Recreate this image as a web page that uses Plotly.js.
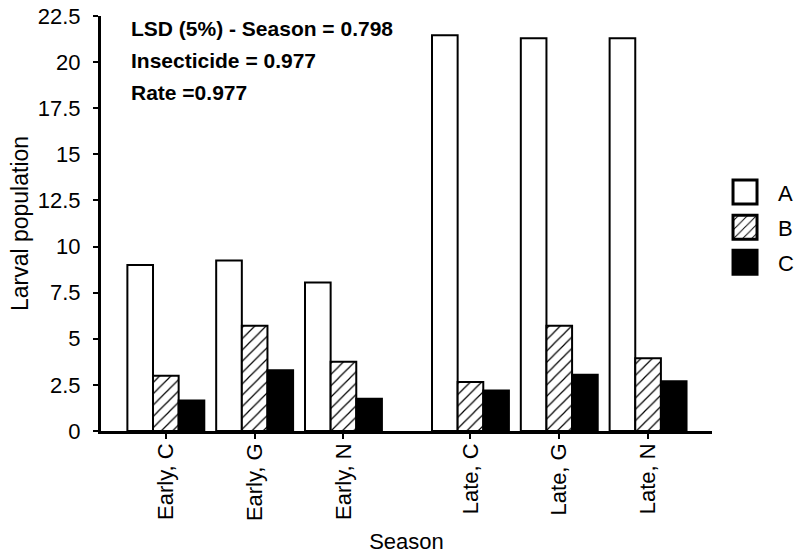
<!DOCTYPE html>
<html>
<head>
<meta charset="utf-8">
<script src="https://cdn.plot.ly/plotly-3.0.1.min.js"></script>
<style>
  html, body { margin: 0; padding: 0; background: #fff; }
  #chart { width: 796px; height: 556px; }
</style>
</head>
<body>
<div id="chart"></div>
<script>
// Season x insecticide combinations on the category axis
const categories = ['Early, C', 'Early, G', 'Early, N', 'Late, C', 'Late, G', 'Late, N'];
const seasons = ['Early', 'Early', 'Early', 'Late', 'Late', 'Late'];

// Larval population per application rate
const rateNames = ['A', 'B', 'C'];
const rateA = [9.0, 9.25, 8.05, 21.45, 21.3, 21.3];
const rateB = [3.0, 5.7, 3.75, 2.65, 5.7, 3.95];
const rateC = [1.65, 3.3, 1.75, 2.2, 3.05, 2.7];

// LSD notes shown in the top-left corner
const lsdNotes = ['LSD (5%) - Season = 0.798', 'Insecticide = 0.977', 'Rate =0.977'];

// y tick values
const yTicks = [0, 2.5, 5, 7.5, 10, 12.5, 15, 17.5, 20, 22.5];

// Category slots: the late-season block is pushed right a little to open a gap
const seasonGap = 0.43;
const slots = categories.map((c, i) => i + (seasons[i] === 'Late' ? seasonGap : 0));

const FONT = 'Liberation Sans, Arial, Helvetica, sans-serif';

const outline = { color: '#000', width: 2 };
const styles = [
  { color: '#ffffff', line: outline },
  { color: '#ffffff', line: outline,
    pattern: { shape: '/', fgcolor: '#000', bgcolor: '#fff', size: 8, solidity: 0.15 } },
  { color: '#000000', line: outline }
];
const series = [rateA, rateB, rateC];

const traces = series.map((vals, k) => ({
  type: 'bar',
  name: rateNames[k],
  legendgroup: rateNames[k],
  x: slots,
  y: vals,
  marker: styles[k],
  hoverinfo: 'skip'
}));

const annotations = lsdNotes.map((t, i) => ({
  xref: 'paper', yref: 'paper',
  x: 0.046, y: 0.969 - i * 0.077,
  xanchor: 'left', yanchor: 'middle',
  text: '<b>' + t + '</b>',
  showarrow: false,
  font: { family: FONT, size: 21, color: '#000' }
}));

const layout = {
  width: 796, height: 556,
  margin: { l: 101, r: 83, t: 16, b: 125 },
  paper_bgcolor: '#fff', plot_bgcolor: '#fff',
  font: { family: FONT, size: 21, color: '#000' },
  barmode: 'group',
  bargap: 0.134,
  bargroupgap: 0,
  showlegend: true,
  legend: {
    xref: 'container', yref: 'container',
    x: 0.8945, xanchor: 'left',
    y: 0.692, yanchor: 'top',
    traceorder: 'grouped',
    tracegroupgap: 3.5,
    itemwidth: 56,
    bgcolor: 'rgba(0,0,0,0)',
    font: { family: FONT, size: 22, color: '#000' }
  },
  xaxis: {
    range: [-0.73, slots[slots.length - 1] + 0.72],
    tickmode: 'array',
    tickvals: slots,
    ticktext: categories,
    tickangle: -90,
    ticks: 'outside', ticklen: 5, tickwidth: 2, tickcolor: '#000',
    ticklabelstandoff: -4,
    showline: true, linecolor: '#000', linewidth: 2.5,
    showgrid: false, zeroline: false,
    tickfont: { family: FONT, size: 22, color: '#000' },
    title: { text: 'Season', font: { family: FONT, size: 22, color: '#000' }, standoff: 14 }
  },
  yaxis: {
    range: [0, 22.5],
    tickmode: 'array',
    tickvals: yTicks,
    ticktext: yTicks.map(String),
    ticks: 'outside', ticklen: 5, tickwidth: 2, tickcolor: '#000',
    ticklabelstandoff: 8,
    showline: true, linecolor: '#000', linewidth: 3,
    showgrid: false, zeroline: false,
    tickfont: { family: FONT, size: 22, color: '#000' },
    title: { text: 'Larval population', font: { family: FONT, size: 23, color: '#000' }, standoff: 3 }
  },
  annotations: annotations
};

// enlarge the legend swatches to 24px squares
function enlargeSwatches() {
  document.querySelectorAll('#chart .legend .legendpoints path').forEach(p => {
    p.setAttribute('d', 'M12,12H-12V-12H12Z');
    p.style.strokeWidth = '3px';
  });
}

const chart = document.getElementById('chart');
Plotly.newPlot(chart, traces, layout, { staticPlot: true, displayModeBar: false }).then(() => {
  enlargeSwatches();
  chart.on('plotly_afterplot', enlargeSwatches);
  setTimeout(enlargeSwatches, 50);
});
</script>
</body>
</html>
